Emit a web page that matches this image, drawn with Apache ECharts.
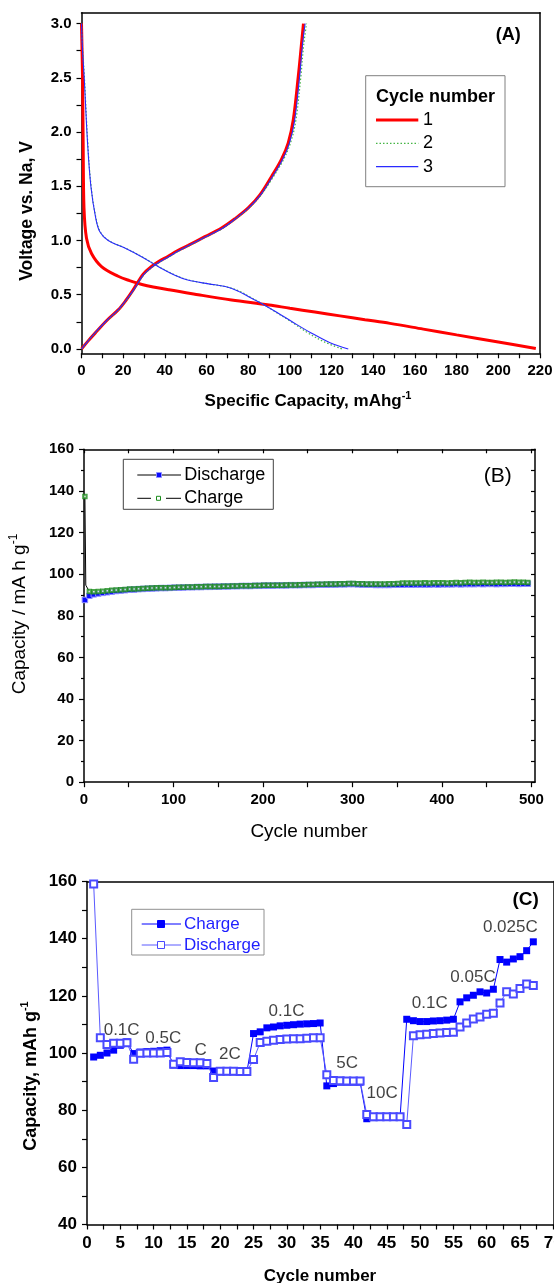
<!DOCTYPE html>
<html><head><meta charset="utf-8">
<script src="https://cdn.jsdelivr.net/npm/echarts@6/dist/echarts.min.js"></script>
<style>html,body{margin:0;padding:0;background:#fff}#c{width:554px;height:1283px}</style>
</head><body><div id="c"></div><script>
// ---------------- Panel A data (Specific capacity mAh/g, Voltage V) ----------------
const c1Discharge = [[0,3.0],[0.5,2.5],[0.8,1.9],[1.2,1.3],[2.4,1.02],[4.8,0.88],[9.6,0.76],[17.6,0.67],[23,0.63],[29,0.595],[42,0.545],[56,0.50],[72,0.452],[90,0.406],[100,0.375],[112,0.34],[124,0.305],[136,0.27],[148,0.236],[164,0.183],[180,0.13],[200,0.064],[218,0.004]];
const c1Charge = [[0,0],[3,0.07],[7.2,0.16],[12,0.26],[17.6,0.36],[21,0.44],[24.8,0.545],[29.6,0.69],[33.6,0.76],[37,0.805],[41.6,0.855],[46,0.905],[51.2,0.955],[59.2,1.035],[67.2,1.115],[73.6,1.2],[80,1.3],[85.6,1.42],[91.2,1.59],[96,1.75],[99.2,1.9],[101.6,2.11],[104,2.51],[105.5,2.8],[106.5,3.0]];
const c2Discharge = [[0,3.0],[0.6,2.75],[1.4,2.5],[3.0,1.9],[4.6,1.5],[6.8,1.22],[9,1.08],[13,1.0],[21,0.93],[29,0.85],[37,0.76],[45,0.68],[51.5,0.635],[61,0.60],[69,0.575],[75.5,0.535],[80.5,0.483],[86.5,0.42],[94,0.33],[101.5,0.24],[108.5,0.15],[116.5,0.065],[125,0.0]];
const c2Charge = [[0,0],[3,0.07],[7.2,0.16],[12.2,0.26],[17.8,0.36],[21.2,0.44],[25.2,0.545],[30,0.685],[34,0.755],[37.5,0.80],[42,0.85],[46.5,0.90],[51.6,0.95],[59.5,1.03],[67.5,1.11],[74,1.2],[80.5,1.3],[86.2,1.42],[91.8,1.58],[96.8,1.74],[100.3,1.9],[102.8,2.1],[105.2,2.5],[106.6,2.8],[108,3.0]];
const c3Discharge = [[0,3.0],[0.5,2.75],[1.3,2.5],[2.9,1.9],[4.5,1.5],[6.7,1.22],[8.8,1.08],[12.8,1.0],[20.8,0.93],[28.8,0.85],[36.8,0.76],[44.8,0.68],[51,0.635],[61,0.60],[69,0.575],[75,0.535],[80,0.483],[86.4,0.42],[94.4,0.33],[102,0.24],[110,0.15],[119,0.06],[128,0.0]];
const c3Charge = [[0,0],[3,0.07],[7,0.16],[12,0.26],[17.6,0.36],[21,0.44],[25,0.545],[29.8,0.685],[33.8,0.755],[37.2,0.80],[41.8,0.85],[46.2,0.90],[51.4,0.953],[59.4,1.033],[67.4,1.11],[73.8,1.2],[80.2,1.3],[85.9,1.42],[91.5,1.585],[96.4,1.745],[99.8,1.9],[102.2,2.1],[104.6,2.5],[106,2.8],[107.3,3.0]];
const yLabelsA = [0,0.5,1,1.5,2,2.5,3];
const yTicksA = [0,0.25,0.5,0.75,1,1.25,1.5,1.75,2,2.25,2.5,2.75,3];

// ---------------- Panel B data (cycle number, capacity) ----------------
const cyclesB = [1,6,11,16,21,26,31,36,41,46,51,56,61,66,71,76,81,86,91,96,101,106,111,116,121,126,131,136,141,146,151,156,161,166,171,176,181,186,191,196,201,206,211,216,221,226,231,236,241,246,251,256,261,266,271,276,281,286,291,296,301,306,311,316,321,326,331,336,341,346,351,356,361,366,371,376,381,386,391,396,401,406,411,416,421,426,431,436,441,446,451,456,461,466,471,476,481,486,491,496];
const dischargeB = [87.6,89.6,90.3,90.7,91.0,91.3,91.6,91.9,92.1,92.3,92.5,92.6,92.8,92.9,93.0,93.1,93.2,93.3,93.3,93.4,93.5,93.5,93.6,93.7,93.7,93.8,93.8,93.9,93.9,94.0,94.0,94.1,94.1,94.2,94.2,94.3,94.3,94.3,94.4,94.4,94.5,94.5,94.5,94.6,94.6,94.6,94.7,94.7,94.7,94.8,94.8,94.8,94.9,94.9,94.9,95.0,95.0,95.1,95.1,95.2,95.2,95.1,95.0,94.9,94.9,94.8,94.8,94.8,94.8,94.9,94.9,94.9,95.0,94.9,95.0,95.0,95.0,95.0,95.1,95.0,95.1,95.1,95.1,95.2,95.1,95.2,95.2,95.2,95.3,95.2,95.3,95.3,95.2,95.3,95.3,95.4,95.4,95.3,95.4,95.4];
const chargeB = [137.3,91.6,91.5,91.6,91.8,92.0,92.2,92.4,92.5,92.6,92.8,92.9,93.0,93.1,93.2,93.3,93.4,93.4,93.5,93.5,93.6,93.7,93.7,93.8,93.8,93.9,93.9,94.0,94.0,94.1,94.1,94.2,94.2,94.3,94.3,94.4,94.4,94.4,94.5,94.5,94.6,94.6,94.6,94.7,94.7,94.8,94.8,94.8,94.9,94.9,95.0,95.0,95.1,95.1,95.2,95.2,95.3,95.4,95.4,95.5,95.5,95.4,95.4,95.3,95.3,95.3,95.3,95.3,95.4,95.4,95.5,95.8,95.8,95.7,95.8,95.8,95.9,95.8,95.9,95.9,95.9,95.8,95.9,96.0,95.9,96.0,96.1,96.0,96.0,96.1,96.0,96.0,96.1,96.1,96.0,96.1,96.2,96.1,96.1,96.0];
const chargeCycle2B = [2, 94.7]; // unmarked 2nd-cycle charge point (end of the vertical drop)
const xLabelsB = [0,100,200,300,400,500];
const xTicksB = [0,50,100,150,200,250,300,350,400,450,500];

// ---------------- Panel C data (rate capability) ----------------
const cyclesC = [1,2,3,4,5,6,7,8,9,10,11,12,13,14,15,16,17,18,19,20,21,22,23,24,25,26,27,28,29,30,31,32,33,34,35,36,37,38,39,40,41,42,43,44,45,46,47,48,49,50,51,52,53,54,55,56,57,58,59,60,61,62,63,64,65,66,67];
const chargeC = [98.6,99.2,100.0,101.0,102.7,103.9, 99.8,100.3,100.5,100.6,100.8,101.0, 95.8,95.6,95.6,95.6,95.5,95.5, 93.7,93.4,93.4,93.4,93.4,93.4, 106.8,107.4,108.8,109.1,109.5,109.7,109.9,110.1,110.2,110.3,110.5, 88.5,89.3,89.8,89.8,89.8,89.8, 77.0,77.4,77.5,77.5,77.5,77.6, 111.8,111.3,111.0,111.0,111.2,111.3,111.5,111.8, 117.9,119.3,120.2,121.4,121.0,122.3, 132.7,131.8,132.9,133.7,135.8,138.9];
const dischargeC = [159.1,105.3,103.0,103.4,103.4,103.6, 97.8,99.9,100.0,100.0,100.0,100.2, 96.1,96.9,96.7,96.6,96.6,96.3, 91.4,93.6,93.6,93.6,93.5,93.5, 97.7,103.7,104.1,104.5,104.7,104.9,105.0,105.0,105.2,105.3,105.3, 92.4,90.4,90.3,90.2,90.2,90.2, 78.5,77.7,77.7,77.7,77.7,77.7, 75.0,106.0,106.4,106.6,106.8,107.0,107.2,107.3, 109.1,110.5,111.9,112.6,113.6,113.9, 117.5,121.4,120.6,122.6,124.1,123.6];
const rateNames = ['0.1C','0.5C','C','2C','0.1C','5C','10C','0.1C','0.05C','0.025C'];
const rateX = [5.2,11.45,17.05,21.45,29.95,39.05,44.3,51.45,57.95,63.55];
const rateY = [108.0,105.1,101.0,99.6,114.7,96.3,86.0,117.3,126.4,143.8];

// ---------------- chart ----------------
const F = '"Liberation Sans", Arial, Helvetica, sans-serif';
const chart = echarts.init(document.getElementById('c'), null, {renderer:'canvas', width:554, height:1283});
const zip = (xs, ys) => xs.map((x, i) => [x, ys[i]]);
const AL = {show:true, onZero:false, lineStyle:{color:'#000', width:1.5}};
const TK = (len, inside) => ({show:true, inside:!!inside, length:len, lineStyle:{color:'#000', width:1.2}});
const LBL = (size, margin) => ({show:true, color:'#000', fontFamily:F, fontSize:size, fontWeight:'bold', margin:margin});
const NOSPLIT = {show:false};
const frameAxis = (gi, pos, min, max) => ({gridIndex:gi, type:'value', position:pos, min:min, max:max, axisLine:AL, axisTick:{show:false}, axisLabel:{show:false}, splitLine:NOSPLIT});

function sup(main, s, size, weight, x, y, rot) {
  const ss = Math.round(size * 0.62);
  return {type:'text', x:x, y:y, rotation:rot || 0, z:100, silent:true,
    style:{text:'{m|' + main + '}{s|' + s + '}', align:'center', verticalAlign:'middle',
      rich:{m:{fontFamily:F, fontSize:size, fontWeight:weight, fill:'#000', lineHeight:size + 6},
            s:{fontFamily:F, fontSize:ss, fontWeight:weight, fill:'#000', lineHeight:ss, verticalAlign:'top'}}}};
}
function txt(t, x, y, size, weight, color, align, rot) {
  return {type:'text', x:x, y:y, rotation:rot || 0, z:100, silent:true,
    style:{text:t, fontFamily:F, fontSize:size, fontWeight:weight || 'normal', fill:color || '#000', align:align || 'center', verticalAlign:'middle'}};
}
const line = (x1, y1, x2, y2, color, w, dash) => ({type:'line', z:100, silent:true, shape:{x1, y1, x2, y2}, style:{stroke:color, lineWidth:w, lineDash:dash || null}});
const box = (x, y, w, h, stroke) => ({type:'rect', z:99, silent:true, shape:{x, y, width:w, height:h}, style:{fill:'#fff', stroke:stroke, lineWidth:1}});
const sq = (cx, cy, s, fill, stroke) => ({type:'rect', z:101, silent:true, shape:{x:cx - s/2, y:cy - s/2, width:s, height:s}, style:{fill:fill, stroke:stroke, lineWidth:1}});

const lineA = (name, data, color, width, dash) => ({type:'line', name:name, xAxisIndex:0, yAxisIndex:0, data:data, symbol:'none', smooth:0.35, lineStyle:{color:color, width:width, type:dash || 'solid'}, itemStyle:{color:color}});
const GREEN2 = '#45b545';

const chargeLineB = zip(cyclesB, chargeB);
chargeLineB.splice(1, 0, chargeCycle2B);

const option = {
  animation:false,
  backgroundColor:'#fff',
  grid:[
    {left:81.5, top:12.7, width:458.5, height:340.6, containLabel:false, outerBoundsMode:'none'},
    {left:84, top:449.3, width:451, height:332.9, containLabel:false, outerBoundsMode:'none'},
    {left:87, top:881.5, width:466.3, height:343, containLabel:false, outerBoundsMode:'none'}
  ],
  xAxis:[
    {gridIndex:0, type:'value', position:'bottom', min:0, max:220, interval:20, axisLine:AL, axisTick:TK(5), minorTick:{show:true, splitNumber:2, length:5, lineStyle:{color:'#000', width:1.2}}, axisLabel:LBL(15, 10), splitLine:NOSPLIT, minorSplitLine:NOSPLIT},
    frameAxis(0, 'top', 0, 220),
    {gridIndex:1, type:'value', position:'bottom', min:0, max:504, axisLine:AL, axisTick:Object.assign(TK(5), {customValues:xTicksB}), axisLabel:Object.assign(LBL(15, 10), {customValues:xLabelsB}), splitLine:NOSPLIT},
    {gridIndex:1, type:'value', position:'top', min:0, max:504, axisLine:AL, axisTick:Object.assign(TK(4, true), {customValues:xTicksB}), axisLabel:{show:false}, splitLine:NOSPLIT},
    {gridIndex:2, type:'value', position:'bottom', min:0, max:70, interval:5, axisLine:AL, axisTick:TK(5), minorTick:{show:true, splitNumber:2, length:5, lineStyle:{color:'#000', width:1.2}}, axisLabel:Object.assign(LBL(17, 10), {showMaxLabel:true}), splitLine:NOSPLIT, minorSplitLine:NOSPLIT},
    frameAxis(2, 'top', 0, 70)
  ],
  yAxis:[
    {gridIndex:0, type:'value', position:'left', min:-0.04, max:3.1, axisLine:AL, axisTick:Object.assign(TK(5), {customValues:yTicksA}), axisLabel:Object.assign(LBL(15, 10), {customValues:yLabelsA, formatter:v => Number(v).toFixed(1)}), splitLine:NOSPLIT},
    frameAxis(0, 'right', -0.04, 3.1),
    {gridIndex:1, type:'value', position:'left', min:0, max:160, interval:20, axisLine:AL, axisTick:TK(5), minorTick:{show:true, splitNumber:2, length:3, lineStyle:{color:'#000', width:1.2}}, axisLabel:LBL(15, 10), splitLine:NOSPLIT, minorSplitLine:NOSPLIT},
    {gridIndex:1, type:'value', position:'right', min:0, max:160, interval:10, axisLine:AL, axisTick:TK(4, true), axisLabel:{show:false}, splitLine:NOSPLIT},
    {gridIndex:2, type:'value', position:'left', min:40, max:160, interval:20, axisLine:AL, axisTick:TK(5), minorTick:{show:true, splitNumber:2, length:5, lineStyle:{color:'#000', width:1.2}}, axisLabel:LBL(17, 10), splitLine:NOSPLIT, minorSplitLine:NOSPLIT},
    frameAxis(2, 'right', 40, 160)
  ],
  series:[
    lineA('1', c1Discharge, '#ff0000', 3),
    lineA('1', c1Charge, '#ff0000', 3),
    lineA('2', c2Discharge, GREEN2, 1.2, [1.5, 2]),
    lineA('2', c2Charge, GREEN2, 1.2, [1.5, 2]),
    lineA('3', c3Discharge, '#2a2aff', 1.1),
    lineA('3', c3Charge, '#2a2aff', 1.1),
    // Panel B: charge line under everything, discharge, then charge markers on top
    {type:'line', name:'Charge', xAxisIndex:2, yAxisIndex:2, data:chargeLineB, symbol:'none', lineStyle:{color:'#000', width:1}, z:1},
    {type:'line', name:'Discharge', xAxisIndex:2, yAxisIndex:2, data:zip(cyclesB, dischargeB), showAllSymbol:true, symbol:'rect', symbolSize:5.5, itemStyle:{color:'#0a0aff', borderColor:'#8c8cff', borderWidth:1}, lineStyle:{color:'#1a1aff', width:1.5}, z:2},
    {type:'scatter', name:'Charge', xAxisIndex:2, yAxisIndex:2, data:zip(cyclesB, chargeB), symbol:'emptyRect', symbolSize:3.5, itemStyle:{color:'#1f8f1f', borderWidth:1}, z:3},
    // Panel C
    {type:'line', name:'C-Charge', xAxisIndex:4, yAxisIndex:4, data:zip(cyclesC, chargeC), showAllSymbol:true, symbol:'rect', symbolSize:7, itemStyle:{color:'#0000ff'}, lineStyle:{color:'#0000ff', width:1}, z:2},
    {type:'line', name:'C-Discharge', xAxisIndex:4, yAxisIndex:4, data:zip(cyclesC, dischargeC), showAllSymbol:true, symbol:'emptyRect', symbolSize:7, itemStyle:{color:'#4a4aff', borderWidth:1}, lineStyle:{color:'#5a5aff', width:1}, z:3},
    {type:'scatter', name:'rates', xAxisIndex:4, yAxisIndex:4, silent:true, symbolSize:1, itemStyle:{color:'rgba(0,0,0,0)'},
      data:rateNames.map((n, i) => ({name:n, value:[rateX[i], rateY[i]]})),
      label:{show:true, position:'inside', formatter:'{b}', fontFamily:F, fontSize:17, color:'#111', textBorderWidth:0, textShadowBlur:0}, z:5}
  ],
  graphic:[
    // Panel A
    txt('(A)', 508.3, 35, 18, 'bold'),
    box(365.7, 75.7, 139.3, 111, '#808080'),
    txt('Cycle number', 376, 97.3, 18, 'bold', '#000', 'left'),
    line(376, 120, 418.3, 120, '#ff0000', 3),
    txt('1', 423, 120, 18, 'normal', '#000', 'left'),
    line(376, 143.3, 418.3, 143.3, GREEN2, 1.2, [1.5, 2]),
    txt('2', 423, 143.3, 18, 'normal', '#000', 'left'),
    line(376, 166.7, 418.3, 166.7, '#2a2aff', 1.2),
    txt('3', 423, 166.7, 18, 'normal', '#000', 'left'),
    sup('Specific Capacity, mAhg', '-1', 17, 'bold', 308, 401.7, 0),
    txt('Voltage vs. Na, V', 27.4, 211, 17.5, 'bold', '#000', 'center', Math.PI / 2),
    // Panel B
    txt('(B)', 497.7, 476, 21, 'normal'),
    box(123.3, 459.3, 150, 50, '#404040'),
    line(137.3, 475, 181, 475, '#000', 1),
    sq(159, 475, 5, '#0a0aff', '#9090ff'),
    txt('Discharge', 184.3, 475, 18, 'normal', '#000', 'left'),
    line(137.3, 498.3, 151, 498.3, '#000', 1),
    line(166, 498.3, 181, 498.3, '#000', 1),
    sq(158.5, 498.3, 4, '#fff', '#1a8c1a'),
    txt('Charge', 184.3, 498.3, 18, 'normal', '#000', 'left'),
    sup('Capacity / mA h g', '-1', 19, 'normal', 20, 614, Math.PI / 2),
    txt('Cycle number', 309, 831.7, 19, 'normal'),
    // Panel C
    txt('(C)', 525.7, 899.3, 19, 'bold'),
    box(131.7, 909.3, 132.3, 45.7, '#909090'),
    line(141.7, 924, 181, 924, '#0000ff', 1),
    sq(161, 924, 7, '#0000ff', '#0000ff'),
    txt('Charge', 184, 924, 17, 'normal', '#1f1fff', 'left'),
    line(141.7, 945, 181, 945, '#5a5aff', 1),
    sq(161, 945, 7, '#fff', '#4a4aff'),
    txt('Discharge', 184, 945, 17, 'normal', '#1f1fff', 'left'),
    sup('Capacity, mAh g', '-1', 18, 'bold', 31, 1076, Math.PI / 2),
    txt('Cycle number', 320, 1276.7, 17, 'bold')
  ]
};
chart.setOption(option);
</script></body></html>
